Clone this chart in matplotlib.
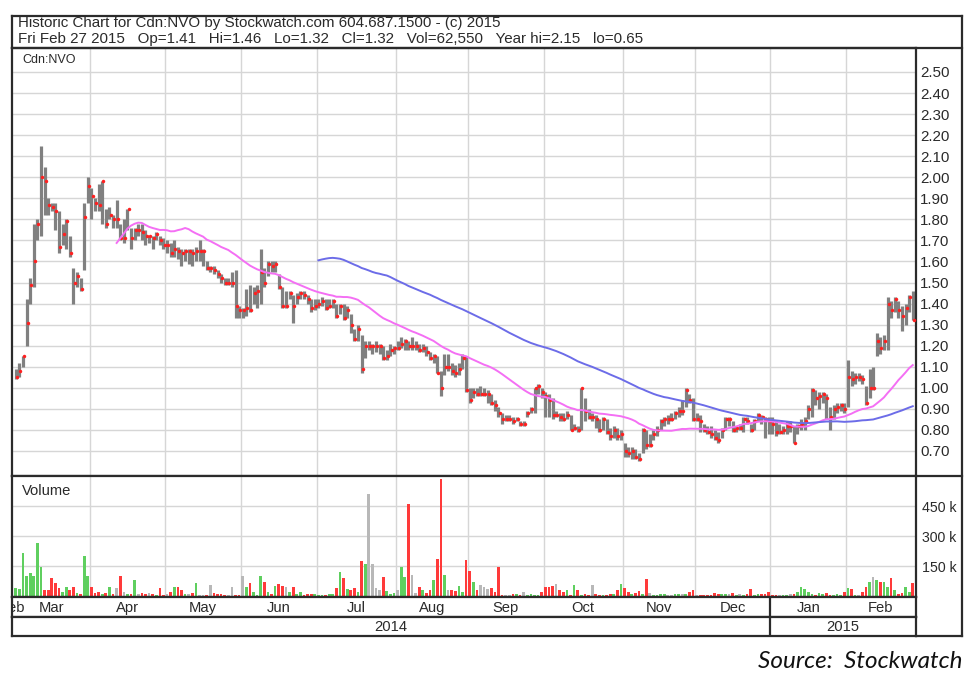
import numpy as np
import pandas as pd
import matplotlib
matplotlib.use("Agg")
import matplotlib.pyplot as plt
from matplotlib.lines import Line2D

plt.rcParams["font.family"] = ["Liberation Sans", "DejaVu Sans"]

# TSX-V trading days, Mar 2014 - Feb 2015
holidays = ["2014-04-18", "2014-05-19", "2014-07-01", "2014-08-04", "2014-09-01",
            "2014-10-13", "2014-12-25", "2014-12-26", "2015-01-01", "2015-02-16"]
dates = pd.bdate_range("2014-03-03", "2015-02-27", freq="C", holidays=holidays)

high = [
    # Mar
    1.09, 1.12, 1.15, 1.42, 1.52, 1.78, 1.80, 2.15, 2.05, 1.90, 1.88, 1.88, 1.84, 1.78, 1.80, 1.72, 1.57, 1.55, 1.52, 1.88, 2.00,
    # Apr
    1.95, 1.90, 1.97, 1.98, 1.85, 1.86, 1.82, 1.89, 1.78, 1.80, 1.85, 1.76, 1.76, 1.78, 1.78, 1.75, 1.72, 1.72, 1.74, 1.72, 1.71,
    # May
    1.70, 1.69, 1.70, 1.67, 1.66, 1.66, 1.66, 1.66, 1.67, 1.70, 1.66, 1.60, 1.58, 1.58, 1.56, 1.54, 1.52, 1.52, 1.55, 1.56, 1.39,
    # Jun
    1.38, 1.47, 1.49, 1.48, 1.49, 1.66, 1.57, 1.60, 1.60, 1.60, 1.54, 1.48, 1.46, 1.46, 1.44, 1.45, 1.46, 1.46, 1.44, 1.42, 1.42,
    # Jul
    1.42, 1.43, 1.42, 1.42, 1.42, 1.40, 1.40, 1.40, 1.39, 1.35, 1.28, 1.30, 1.25, 1.22, 1.22, 1.21, 1.22, 1.21, 1.20, 1.18, 1.21, 1.20,
    # Aug
    1.22, 1.24, 1.23, 1.22, 1.24, 1.22, 1.21, 1.21, 1.20, 1.17, 1.16, 1.15, 1.08, 1.16, 1.16, 1.12, 1.11, 1.12, 1.16, 1.15,
    # Sep
    1.00, 1.00, 1.00, 1.01, 1.00, 0.99, 0.97, 0.94, 0.91, 0.88, 0.87, 0.87, 0.86, 0.86, 0.84, 0.84, 0.89, 0.91, 1.00, 1.02, 1.00,
    # Oct
    0.98, 0.97, 0.95, 0.89, 0.88, 0.88, 0.89, 0.87, 0.83, 0.82, 1.00, 0.95, 0.90, 0.88, 0.87, 0.85, 0.86, 0.85, 0.81, 0.82, 0.81, 0.80,
    # Nov
    0.74, 0.72, 0.72, 0.71, 0.69, 0.81, 0.80, 0.78, 0.80, 0.82, 0.85, 0.86, 0.87, 0.88, 0.89, 0.91, 0.94, 1.00, 0.97, 0.95,
    # Dec
    0.88, 0.87, 0.83, 0.82, 0.82, 0.80, 0.79, 0.81, 0.86, 0.86, 0.84, 0.82, 0.83, 0.86, 0.86, 0.83, 0.85, 0.88, 0.87, 0.86, 0.86,
    # Jan
    0.86, 0.84, 0.83, 0.82, 0.84, 0.84, 0.82, 0.83, 0.85, 0.86, 0.92, 1.00, 0.99, 0.98, 0.98, 0.97, 0.91, 0.92, 0.93, 0.93, 0.93,
    # Feb
    1.13, 1.08, 1.07, 1.07, 1.06, 1.01, 1.09, 1.10, 1.26, 1.24, 1.25, 1.43, 1.41, 1.43, 1.41, 1.39, 1.40, 1.44, 1.46,
]

low = [
    1.04, 1.05, 1.10, 1.20, 1.40, 1.48, 1.70, 1.72, 1.82, 1.82, 1.84, 1.75, 1.64, 1.68, 1.66, 1.62, 1.40, 1.48, 1.46, 1.56, 1.88,
    1.80, 1.84, 1.84, 1.78, 1.76, 1.80, 1.76, 1.76, 1.70, 1.69, 1.75, 1.66, 1.70, 1.72, 1.70, 1.68, 1.69, 1.66, 1.70, 1.68, 1.66,
    1.64, 1.62, 1.62, 1.61, 1.58, 1.60, 1.59, 1.58, 1.60, 1.60, 1.58, 1.56, 1.55, 1.54, 1.52, 1.50, 1.49, 1.49, 1.48, 1.33, 1.33,
    1.33, 1.34, 1.36, 1.40, 1.38, 1.40, 1.48, 1.53, 1.55, 1.55, 1.47, 1.38, 1.38, 1.42, 1.31, 1.40, 1.42, 1.42, 1.40, 1.36, 1.37,
    1.38, 1.39, 1.37, 1.38, 1.38, 1.33, 1.35, 1.32, 1.33, 1.26, 1.22, 1.22, 1.07, 1.14, 1.18, 1.16, 1.17, 1.16, 1.13, 1.13, 1.15, 1.16,
    1.18, 1.19, 1.18, 1.18, 1.18, 1.18, 1.17, 1.17, 1.15, 1.13, 1.12, 1.07, 0.96, 1.06, 1.08, 1.06, 1.05, 1.06, 1.09, 0.98,
    0.93, 0.95, 0.96, 0.96, 0.96, 0.93, 0.92, 0.89, 0.86, 0.83, 0.84, 0.84, 0.83, 0.84, 0.82, 0.82, 0.86, 0.88, 0.88, 0.97, 0.95,
    0.86, 0.86, 0.85, 0.86, 0.84, 0.84, 0.85, 0.80, 0.80, 0.79, 0.80, 0.84, 0.85, 0.84, 0.81, 0.79, 0.80, 0.78, 0.75, 0.76, 0.75, 0.75,
    0.67, 0.67, 0.66, 0.66, 0.65, 0.69, 0.71, 0.72, 0.75, 0.77, 0.80, 0.82, 0.83, 0.84, 0.85, 0.86, 0.87, 0.91, 0.93, 0.84,
    0.84, 0.79, 0.79, 0.78, 0.76, 0.75, 0.74, 0.76, 0.80, 0.82, 0.79, 0.79, 0.80, 0.79, 0.83, 0.79, 0.80, 0.84, 0.83, 0.76, 0.78,
    0.78, 0.77, 0.78, 0.78, 0.78, 0.79, 0.74, 0.78, 0.80, 0.80, 0.85, 0.86, 0.92, 0.90, 0.93, 0.85, 0.80, 0.85, 0.88, 0.89, 0.88,
    0.91, 1.01, 1.02, 1.03, 1.02, 0.92, 0.95, 0.99, 1.15, 1.16, 1.18, 1.18, 1.33, 1.36, 1.33, 1.27, 1.30, 1.36, 1.32,
]

close = [
    1.05, 1.08, 1.15, 1.31, 1.49, 1.60, 1.78, 2.00, 1.98, 1.87, 1.86, 1.84, 1.67, 1.73, 1.79, 1.64, 1.50, 1.53, 1.47, 1.81, 1.96,
    1.91, 1.88, 1.87, 1.98, 1.78, 1.82, 1.80, 1.80, 1.71, 1.71, 1.85, 1.71, 1.75, 1.75, 1.74, 1.72, 1.72, 1.71, 1.73, 1.70, 1.68,
    1.68, 1.64, 1.66, 1.65, 1.64, 1.65, 1.65, 1.64, 1.65, 1.65, 1.65, 1.57, 1.57, 1.56, 1.54, 1.52, 1.50, 1.50, 1.50, 1.39, 1.37,
    1.37, 1.38, 1.37, 1.45, 1.46, 1.55, 1.50, 1.59, 1.58, 1.59, 1.48, 1.39, 1.39, 1.45, 1.39, 1.43, 1.45, 1.44, 1.42, 1.38, 1.39,
    1.40, 1.41, 1.38, 1.39, 1.41, 1.34, 1.39, 1.33, 1.37, 1.30, 1.23, 1.28, 1.09, 1.20, 1.20, 1.20, 1.20, 1.20, 1.14, 1.15, 1.18, 1.19,
    1.19, 1.21, 1.22, 1.20, 1.20, 1.20, 1.18, 1.19, 1.17, 1.14, 1.15, 1.07, 1.00, 1.10, 1.10, 1.08, 1.07, 1.09, 1.14, 0.99,
    0.94, 0.98, 0.97, 0.97, 0.97, 0.97, 0.93, 0.92, 0.88, 0.85, 0.85, 0.85, 0.84, 0.85, 0.83, 0.83, 0.88, 0.90, 1.00, 1.01, 0.98,
    0.96, 0.94, 0.87, 0.87, 0.86, 0.85, 0.87, 0.80, 0.81, 0.80, 1.00, 0.89, 0.86, 0.86, 0.85, 0.80, 0.85, 0.79, 0.77, 0.80, 0.77, 0.78,
    0.70, 0.69, 0.70, 0.67, 0.66, 0.80, 0.73, 0.73, 0.78, 0.80, 0.84, 0.85, 0.85, 0.85, 0.88, 0.89, 0.89, 0.99, 0.94, 0.85,
    0.85, 0.84, 0.80, 0.79, 0.78, 0.76, 0.75, 0.80, 0.85, 0.85, 0.80, 0.81, 0.81, 0.85, 0.84, 0.80, 0.84, 0.87, 0.86, 0.85, 0.84,
    0.83, 0.79, 0.79, 0.80, 0.82, 0.82, 0.74, 0.82, 0.83, 0.84, 0.90, 0.99, 0.95, 0.96, 0.97, 0.95, 0.86, 0.90, 0.91, 0.92, 0.90,
    1.05, 1.04, 1.05, 1.05, 1.04, 0.93, 1.00, 1.00, 1.22, 1.19, 1.22, 1.40, 1.37, 1.42, 1.37, 1.34, 1.38, 1.43, 1.32,
]

# daily volume, thousands of shares
volume = [
    38, 35, 213, 100, 117, 100, 263, 147, 30, 30, 88, 63, 38, 22, 43, 30, 43, 15, 10, 200, 100,
    47, 15, 20, 10, 15, 47, 12, 38, 100, 22, 12, 12, 80, 10, 15, 8, 15, 10, 5, 38, 5,
    12, 22, 45, 43, 30, 8, 12, 15, 63, 5, 3, 5, 55, 15, 12, 8, 5, 5, 47, 5, 3,
    100, 43, 63, 22, 5, 100, 72, 22, 12, 52, 62, 52, 43, 22, 43, 10, 22, 5, 12, 12, 8,
    5, 5, 5, 10, 12, 38, 118, 90, 35, 30, 38, 22, 177, 158, 510, 160, 38, 30, 97, 27, 10, 15,
    30, 143, 97, 460, 103, 15, 47, 30, 15, 30, 80, 183, 583, 105, 30, 30, 27, 48, 20, 180,
    123, 70, 30, 55, 45, 35, 38, 20, 143, 5, 5, 5, 8, 12, 5, 22, 5, 8, 5, 5, 22,
    47, 47, 52, 60, 30, 22, 30, 5, 57, 30, 5, 8, 3, 57, 12, 3, 5, 3, 12, 8, 30, 62,
    38, 22, 12, 15, 25, 10, 85, 15, 5, 5, 8, 8, 5, 7, 8, 12, 8, 10, 22, 30,
    3, 3, 5, 4, 3, 15, 12, 8, 12, 8, 15, 5, 8, 5, 8, 33, 5, 8, 12, 10, 20,
    3, 3, 3, 3, 5, 8, 12, 20, 45, 35, 22, 8, 5, 15, 8, 15, 5, 5, 8, 5, 22,
    38, 35, 5, 5, 22, 43, 70, 95, 78, 70, 72, 47, 92, 30, 8, 15, 43, 22, 62.55,
]

price_ticks = [0.70, 0.80, 0.90, 1.00, 1.10, 1.20, 1.30, 1.40, 1.50, 1.60, 1.70, 1.80,
               1.90, 2.00, 2.10, 2.20, 2.30, 2.40, 2.50]
volume_ticks = [150, 300, 450]
ma_fast, ma_slow = 29, 85

header1 = "Historic Chart for Cdn:NVO by Stockwatch.com 604.687.1500 - (c) 2015"
header2 = ("Fri Feb 27 2015   Op=1.41   Hi=1.46   Lo=1.32   Cl=1.32   Vol=62,550   "
           "Year hi=2.15   lo=0.65")

n = len(dates)
x = np.arange(n)
c = pd.Series(close)
ma1 = c.rolling(ma_fast).mean()
ma2 = c.rolling(ma_slow).mean()

chg = c.diff().fillna(1.0)
vcol = np.where(chg > 0, "#5fcf5f", np.where(chg < 0, "#ff3a3a", "#b8b8b8"))

months = dates.to_period("M")
new_month = np.r_[True, months[1:] != months[:-1]]
bounds = x[new_month][1:] - 0.5
starts = list(x[new_month]) + [n]
centers = [(starts[k] + starts[k + 1] - 1) / 2 for k in range(len(starts) - 1)]
labels = [d.strftime("%b") for d in dates[new_month]]
jan = bounds[list(dates[new_month][1:].month).index(1)]

W, H = 980, 680
fig = plt.figure(figsize=(W / 100, H / 100), dpi=100)

L, R, RR = 12, 916, 962


def box(top, bottom, left=L, right=R):
    return [left / W, 1 - bottom / H, (right - left) / W, (bottom - top) / H]


edge = "#2b2b2b"
gridc = "#d6d6d6"
txt = "#2a2a2a"
fs = 10.6
xlim = (-1.05, n - 0.1)

axp = fig.add_axes(box(48, 476))
axv = fig.add_axes(box(476, 597))
axm = fig.add_axes(box(597, 617))
axy = fig.add_axes(box(617, 636))

for ax in (axp, axv, axm, axy):
    ax.set_xlim(*xlim)
    ax.set_xticks([])
    for s in ax.spines.values():
        s.set_color(edge)
        s.set_linewidth(1.6)

# price panel
axp.set_ylim(0.581, 2.614)
axp.set_yticks(price_ticks)
axp.set_yticklabels(["%.2f" % t for t in price_ticks])
axp.yaxis.tick_right()
axp.tick_params(axis="y", length=0, pad=3, labelsize=fs + 0.3, labelcolor=txt)
axp.grid(axis="y", color=gridc, lw=1)
for b in bounds:
    axp.axvline(b, color=gridc, lw=1, zorder=0)
axp.set_axisbelow(True)
axp.vlines(x, low, high, color="#808080", lw=2.3, zorder=2)
axp.plot(x + 0.3, close, "o", ms=2.5, color="#ff2020", mec="none", zorder=3)
axp.plot(x, ma1, color="#f46ff4", lw=1.4, zorder=4)
axp.plot(x, ma2, color="#6c6ce8", lw=1.4, zorder=4)
axp.text(0.011, 0.985, "Cdn:NVO", transform=axp.transAxes, ha="left", va="top",
         fontsize=9, color=txt)

# volume panel
axv.set_ylim(-5, 600)
axv.set_yticks(volume_ticks)
axv.set_yticklabels(["%d k" % t for t in volume_ticks])
axv.yaxis.tick_right()
axv.tick_params(axis="y", length=0, pad=4, labelsize=fs - 0.4, labelcolor=txt)
axv.grid(axis="y", color=gridc, lw=1)
for b in bounds:
    axv.axvline(b, color=gridc, lw=1, zorder=0)
axv.set_axisbelow(True)
axv.bar(x, volume, width=0.75, color=vcol, zorder=2)
axv.text(0.011, 0.93, "Volume", transform=axv.transAxes, ha="left", va="top",
         fontsize=fs, color=txt)

# month and year rows
axm.set_yticks([])
axm.set_ylim(0, 1)
for cx, lab in zip(centers, labels):
    axm.text(cx, 0.45, lab, ha="center", va="center", fontsize=fs, color=txt,
             clip_on=True)
axm.text(-0.9, 0.45, "Feb", ha="center", va="center", fontsize=fs, color=txt,
         clip_on=True)
axm.axvline(jan, color=edge, lw=1.6)

axy.set_yticks([])
axy.set_ylim(0, 1)
axy.text((xlim[0] + jan) / 2, 0.45, str(dates[0].year), ha="center", va="center",
         fontsize=fs, color=txt)
axy.text((jan + xlim[1]) / 2, 0.45, str(dates[-1].year), ha="center", va="center",
         fontsize=fs, color=txt)
axy.axvline(jan, color=edge, lw=1.6)


def hline(y, x0, x1):
    fig.add_artist(Line2D([x0 / W, x1 / W], [1 - y / H, 1 - y / H], color=edge, lw=1.6))


def vline(xp, y0, y1):
    fig.add_artist(Line2D([xp / W, xp / W], [1 - y0 / H, 1 - y1 / H], color=edge, lw=1.6))


# header box and right-hand column
hline(16, L, RR)
hline(48, L, RR)
hline(476, R, RR)
hline(636, R, RR)
vline(L, 16, 48)
vline(RR, 16, 636)
fig.text(18 / W, 1 - 23.5 / H, header1, ha="left", va="center", fontsize=fs + 0.3, color=txt)
fig.text(18 / W, 1 - 39 / H, header2, ha="left", va="center", fontsize=fs + 0.3, color=txt)

fig.text(962 / W, 1 - 662 / H, "Source:  Stockwatch", ha="right", va="center",
         fontsize=17.5, style="italic", family=["Lato", "DejaVu Sans"], color="#111111")

fig.savefig("out.png", dpi=100)
